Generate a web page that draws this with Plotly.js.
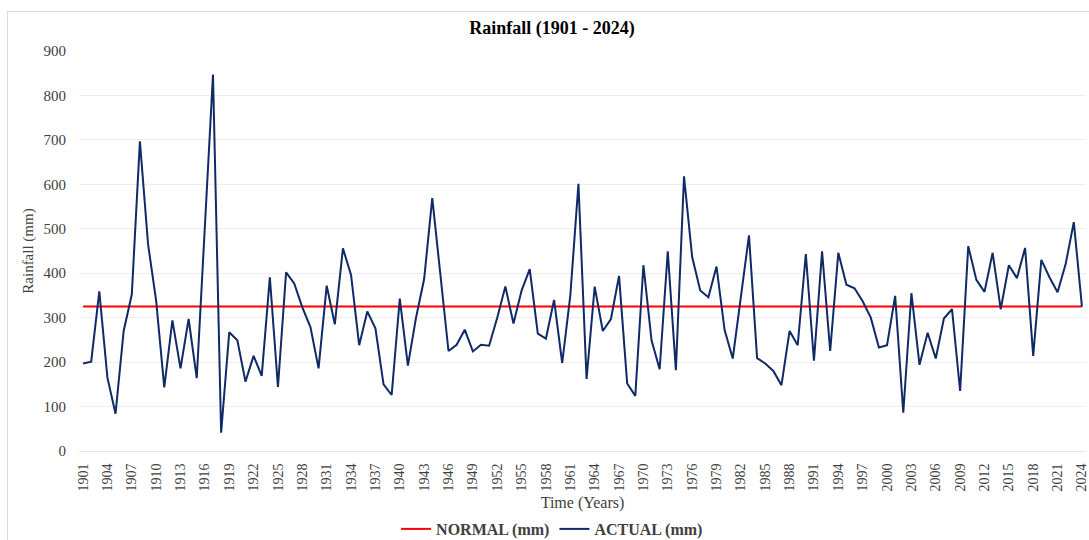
<!DOCTYPE html>
<html>
<head>
<meta charset="utf-8">
<script src="https://cdn.plot.ly/plotly-3.0.1.min.js"></script>
<style>
  html, body { margin: 0; padding: 0; background: #fff; overflow: hidden; }
  #wrap { position: relative; width: 1089px; height: 540px; }
  #chart { position: absolute; left: 0; top: 0; width: 1089px; height: 540px; }
  #frame { position: absolute; left: 7px; top: 11px; width: 1100px; height: 560px;
           border: 1px solid #d9d9d9; pointer-events: none; }
</style>
</head>
<body>
<div id="wrap">
  <div id="chart"></div>
  <div id="frame"></div>
</div>
<script>
// ---- data ----
const years = [];
for (let y = 1901; y <= 2024; y++) years.push(y);

const actualMm = [
  197, 201, 359, 165, 84, 270, 352, 697, 466, 338,
  143, 294, 186, 297, 164, 500, 847, 41, 267, 249,
  156, 214, 169, 391, 144, 402, 377, 323, 279, 186,
  372, 285, 456, 396, 238, 314, 276, 150, 126, 343,
  192, 300, 387, 569, 395, 225, 239, 273, 224, 239,
  237, 300, 370, 287, 361, 409, 264, 253, 340, 198,
  350, 601, 162, 370, 270, 297, 394, 152, 124, 418,
  249, 184, 449, 182, 618, 437, 361, 346, 415, 272,
  208, 346, 485, 209, 197, 180, 148, 270, 238, 443,
  203, 449, 225, 446, 374, 366, 337, 300, 233, 238,
  349, 86, 355, 194, 266, 208, 298, 319, 135, 461,
  385, 358, 446, 319, 418, 389, 457, 214, 430, 391,
  357, 421, 515, 325
];

const normalMm = 325;
const normalYears = [1901, 2024];
const normalValues = [normalMm, normalMm];

const seriesNames = ['NORMAL (mm)', 'ACTUAL (mm)'];
const yTicks = [0, 100, 200, 300, 400, 500, 600, 700, 800, 900];

// ---- chart ----
const serif = 'Liberation Serif, Times New Roman, serif';

const traces = [
  {
    type: 'scatter', mode: 'lines', name: seriesNames[0],
    x: normalYears, y: normalValues,
    line: { color: '#ff0000', width: 2 }
  },
  {
    type: 'scatter', mode: 'lines', name: seriesNames[1],
    x: years, y: actualMm,
    line: { color: '#0f2a66', width: 2 }
  }
];

const layout = {
  width: 1089, height: 540,
  margin: { l: 79, r: 3, t: 51, b: 89 },
  paper_bgcolor: '#ffffff',
  plot_bgcolor: '#ffffff',
  font: { family: serif, color: '#404040', size: 14 },
  title: {
    text: 'Rainfall (1901 - 2024)',
    font: { family: serif, size: 18, weight: 'bold', color: '#000000' },
    xref: 'container', x: 0.507, xanchor: 'center',
    yref: 'container', y: 1 - 28 / 540, yanchor: 'middle'
  },
  xaxis: {
    range: [1900.5, 2024.5],
    tickmode: 'linear', tick0: 1901, dtick: 3,
    tickangle: -90,
    ticks: '',
    showgrid: false,
    zeroline: false,
    showline: true, linecolor: '#e6e6e6', linewidth: 1,
    tickfont: { family: serif, size: 14, color: '#404040' },
    ticklabelstandoff: 6,
    ticklabeloverflow: 'allow',
    title: { text: 'Time (Years)', font: { family: serif, size: 16, color: '#404040' }, standoff: 6 }
  },
  yaxis: {
    range: [0, 900],
    tickmode: 'array', tickvals: yTicks,
    ticks: '',
    showgrid: true, gridcolor: '#eeeeee', gridwidth: 1,
    zeroline: false,
    showline: false,
    tickfont: { family: serif, size: 15, color: '#404040' },
    ticklabelstandoff: 12,
    title: { text: 'Rainfall (mm)', font: { family: serif, size: 15, color: '#404040' }, standoff: 6 }
  },
  showlegend: true,
  legend: {
    orientation: 'h',
    xref: 'container', x: 0.507, xanchor: 'center',
    yref: 'container', y: 1 - 529 / 540, yanchor: 'middle',
    font: { family: serif, size: 16, weight: 'bold', color: '#404040' },
    itemwidth: 30,
    traceorder: 'normal'
  }
};

Plotly.newPlot('chart', traces, layout, { displayModeBar: false, staticPlot: true });
</script>
</body>
</html>
